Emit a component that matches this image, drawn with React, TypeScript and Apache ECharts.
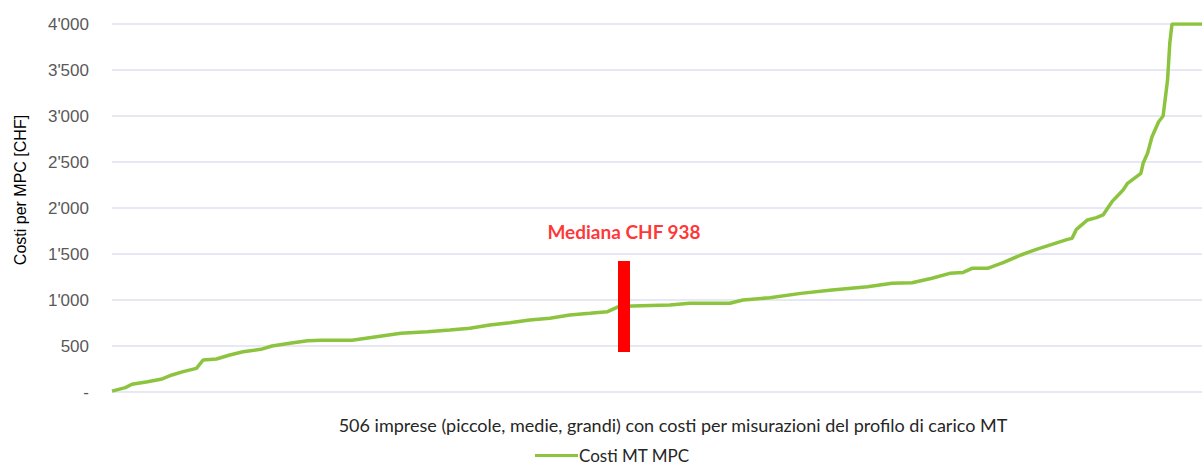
import React, { useEffect, useRef } from 'react';
import * as echarts from 'echarts';

const rankIndex = [
  0, 6, 9, 16, 22, 27, 32, 38, 41, 47, 53, 59, 67, 72, 80, 88, 94, 108, 119, 130,
  142, 152, 161, 170, 179, 188, 197, 206, 215, 223, 228, 234, 251, 260, 278, 284,
  296, 310, 324, 340, 351, 360, 369, 377, 383, 387, 394, 401, 409, 416, 423, 430,
  432, 434, 439, 443, 446, 448, 450, 455, 457, 463, 464, 466, 468, 471, 473, 475,
  476, 477, 505,
];
// Cost per company [CHF]
const costValues = [
  10, 47, 84, 112, 138, 185, 221, 257, 348, 359, 402, 438, 464, 500, 529, 558, 562, 562, 601, 638,
  655, 674, 692, 728, 753, 783, 801, 837, 855, 873, 927, 935, 946, 964, 964, 1000,
  1025, 1072, 1109, 1145, 1181, 1188, 1236, 1290, 1300, 1344, 1344, 1406, 1489, 1551, 1605, 1659,
  1670, 1768, 1870, 1895, 1924, 1997, 2069, 2196, 2268, 2377, 2486, 2595, 2775, 2938, 3000, 3391,
  3790, 4000, 4000,
];

const seriesName = 'Costi MT MPC';
const xTitle = '506 imprese (piccole, medie, grandi) con costi per misurazioni del profilo di carico MT';
const yTitle = 'Costi per MPC [CHF]';
const yMin = 0;
const yMax = 4000;
const yStep = 500;
// the picture is cropped on the right: only ranks up to about 490 are visible
const xVisibleMax = 490.5;

const medianIndex = 230.4;
const medianBar = [435, 1424];
const medianLabelValue = 1740;
const medianLabel = 'Mediana CHF 938';

const fmtTick = (v: number) => {
  if (v === 0) return '-';
  if (v >= 1000) return `${Math.floor(v / 1000)}'${String(v % 1000).padStart(3, '0')}`;
  return String(v);
};

export default function App() {
  const ref = useRef<HTMLDivElement>(null);
  useEffect(() => {
    if (!ref.current) return;
    const chart = echarts.init(ref.current, null, { renderer: 'svg' });
    chart.setOption({
      animation: false,
      grid: { left: 112, right: 0, top: 24, bottom: 74 },
      legend: {
        data: [seriesName],
        left: 535,
        top: 447,
        padding: 0,
        icon: 'rect',
        itemWidth: 43,
        itemHeight: 3,
        textStyle: { fontFamily: 'Lato', fontSize: 17, color: '#262626', padding: [0, 0, 0, -4] },
      },
      graphic: [
        {
          type: 'text',
          x: 20,
          y: 190,
          rotation: Math.PI / 2,
          style: {
            text: yTitle,
            font: '16px "Liberation Sans"',
            fill: '#000000',
            align: 'center',
            verticalAlign: 'middle',
          },
        },
        {
          type: 'text',
          x: 673,
          y: 425,
          style: {
            text: xTitle,
            font: '18px Lato',
            fill: '#262626',
            align: 'center',
            verticalAlign: 'middle',
          },
        },
      ],
      xAxis: {
        type: 'value',
        min: 0,
        max: xVisibleMax,
        axisLine: { show: false },
        axisTick: { show: false },
        axisLabel: { show: false },
        splitLine: { show: false },
      },
      yAxis: {
        type: 'value',
        min: yMin,
        max: yMax,
        interval: yStep,
        axisLine: { show: false },
        axisTick: { show: false },
        axisLabel: {
          formatter: fmtTick,
          fontFamily: 'Liberation Sans',
          fontSize: 17,
          color: '#595959',
          margin: 23,
        },
        splitLine: { lineStyle: { color: '#dfe1ef', width: 1.5 } },
      },
      series: [
        {
          name: seriesName,
          type: 'line',
          data: rankIndex.map((x, i) => [x, costValues[i]]),
          showSymbol: false,
          symbol: 'none',
          clip: true,
          lineStyle: { color: '#8cc43f', width: 3.5 },
          itemStyle: { color: '#8cc43f' },
          z: 2,
        },
        {
          name: 'median',
          type: 'line',
          data: medianBar.map((v) => [medianIndex, v]),
          showSymbol: false,
          symbol: 'none',
          lineStyle: { color: '#ff0000', width: 12, cap: 'butt' },
          z: 3,
        },
        {
          name: 'medianLabel',
          type: 'scatter',
          data: [[medianIndex, medianLabelValue]],
          symbolSize: 1,
          itemStyle: { color: 'rgba(0,0,0,0)' },
          label: {
            show: true,
            position: 'inside',
            formatter: medianLabel,
            fontFamily: 'Lato',
            fontWeight: 'bold',
            fontSize: 19,
            color: '#ff0000',
          },
          z: 4,
        },
      ],
    });
    return () => chart.dispose();
  }, []);
  return <div ref={ref} style={{ width: 1202, height: 466, position: 'absolute', left: 0, top: 0 }} />;
}
